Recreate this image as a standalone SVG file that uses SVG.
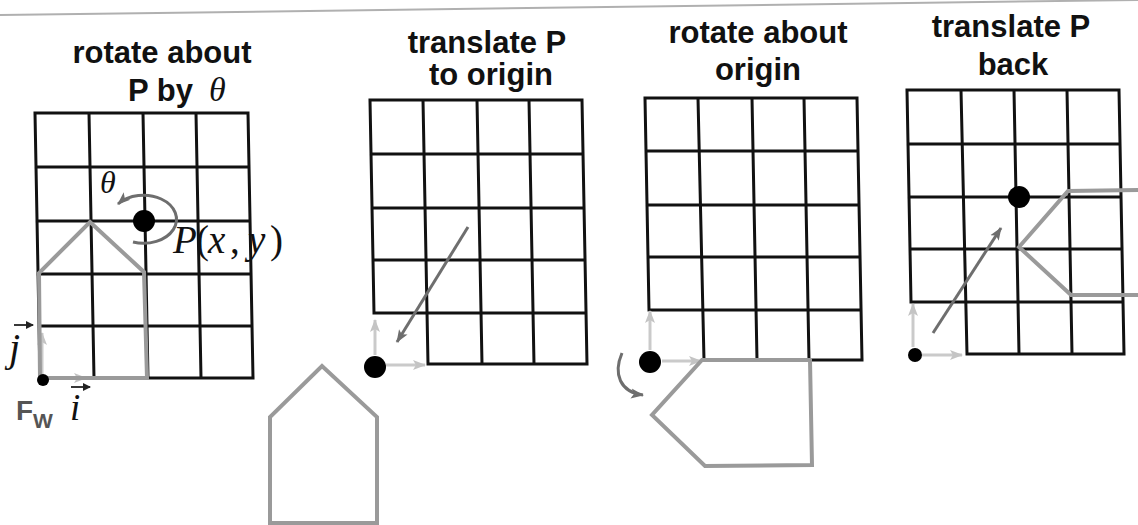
<svg xmlns="http://www.w3.org/2000/svg" width="1138" height="525" viewBox="0 0 1138 525">
<style>
.title{font-family:"Liberation Sans",Arial,sans-serif;font-weight:bold;font-size:31px;fill:#111;text-anchor:middle}
.math{font-family:"Liberation Serif","Times New Roman",serif;font-style:italic;fill:#111}
.up{font-style:normal}
.grid{fill:none;stroke:#111;stroke-width:3;stroke-linecap:square}
.house{fill:none;stroke:#9a9a9a;stroke-width:4;stroke-linejoin:miter}
.axis{fill:none;stroke:#cacaca;stroke-width:3}
.dark{fill:none;stroke:#6e6e6e;stroke-width:3}
.vec{fill:none;stroke:#222;stroke-width:1.8}
.dot{fill:#000}
</style>
<defs>
<marker id="ahDark" markerUnits="userSpaceOnUse" markerWidth="16" markerHeight="12" refX="12" refY="6" orient="auto"><path d="M0,1 L13,6 L0,11 L3,6 z" fill="#6e6e6e"/></marker>
<marker id="ahLight" markerUnits="userSpaceOnUse" markerWidth="16" markerHeight="12" refX="12" refY="6" orient="auto"><path d="M0,1 L13,6 L0,11 L3,6 z" fill="#c4c4c4"/></marker>
<marker id="ahVec" markerUnits="userSpaceOnUse" markerWidth="9" markerHeight="8" refX="7" refY="4" orient="auto"><path d="M0,0 L8,4 L0,8 z" fill="#222"/></marker>
</defs>
<rect width="1138" height="525" fill="#fff"/>
<line x1="0" y1="15" x2="1138" y2="0" stroke="#b0b0b0" stroke-width="2"/>

<g id="panel1">
<text class="title" x="162" y="63">rotate about</text>
<text class="title" x="128" y="101" style="text-anchor:start">P by</text>
<text class="math" x="209" y="101" font-size="34">θ</text>
<path class="grid" d="M35 113 L40 378 M89 113 L94 378 M143 113 L148 378 M196 113 L201 378 M248 113 L253 378 M35 113 H248 M36 167 H249 M37 221 H250 M38 274 H251 M39 326 H252 M40 378 H253"/>
<line class="axis" x1="42" y1="376" x2="42" y2="333" marker-end="url(#ahLight)"/>
<line class="axis" x1="46" y1="378" x2="86" y2="378" marker-end="url(#ahLight)"/>
<path class="house" d="M40 378 L39 273 L90 222 L144 272 L147 378 Z"/>
<circle class="dot" cx="43" cy="380" r="6"/>
<circle class="dot" cx="144" cy="221" r="11"/>
<text class="math" x="100" y="193" font-size="32">θ</text>
<text class="math" font-size="39" y="253"><tspan x="173">P</tspan><tspan class="up" x="196">(</tspan><tspan x="208">x</tspan><tspan class="up" x="230">,</tspan><tspan x="248">y</tspan><tspan class="up" x="270">)</tspan></text>
<text class="math" x="9" y="361" font-size="40">j</text>
<line class="vec" x1="14" y1="325" x2="33" y2="325" marker-end="url(#ahVec)"/>
<text class="math" x="70" y="420" font-size="37">i</text>
<line class="vec" x1="71" y1="387" x2="90" y2="387" marker-end="url(#ahVec)"/>
<text x="16" y="420" font-family="Liberation Sans,Arial,sans-serif" font-weight="bold" font-size="28" fill="#555">F</text>
<text x="33" y="428" font-family="Liberation Sans,Arial,sans-serif" font-weight="bold" font-size="21" fill="#555">W</text>
</g>

<g id="panel2">
<text class="title" x="487" y="53">translate P</text>
<text class="title" x="491" y="85">to origin</text>
<path class="grid" d="M370 100 L374 313 M423 100 L428 364 M477 100 L482 364 M529 100 L534 364 M582 100 L587 364 M370 100 H582 M371 154 H583 M372 208 H584 M373 260 H585 M374 313 H586 M428 364 H587"/>
<line class="axis" x1="375" y1="355" x2="375" y2="320" marker-end="url(#ahLight)"/>
<line class="axis" x1="386" y1="365" x2="425" y2="365" marker-end="url(#ahLight)"/>
<circle class="dot" cx="375" cy="367" r="11"/>
<path class="house" d="M270 523 L270 417 L322 366 L377 417 L377 523 Z"/>
</g>

<g id="panel3">
<text class="title" x="758" y="43">rotate about</text>
<text class="title" x="758" y="80">origin</text>
<path class="grid" d="M645 98 L649 310 M698 98 L704 360 M752 98 L757 360 M804 98 L809 360 M857 98 L862 360 M645 98 H857 M646 151 H858 M647 205 H859 M648 257 H860 M649 310 H861 M704 360 H862"/>
<line class="axis" x1="650" y1="350" x2="650" y2="311" marker-end="url(#ahLight)"/>
<line class="axis" x1="662" y1="361" x2="701" y2="361" marker-end="url(#ahLight)"/>
<circle class="dot" cx="650" cy="362" r="11"/>
<path class="house" d="M702 360 L810 360 L812 465 L705 466 L652 415 Z"/>
</g>

<g id="panel4">
<text class="title" x="1011" y="37">translate P</text>
<text class="title" x="1013" y="75">back</text>
<path class="grid" d="M907 90 L911 302 M961 90 L967 354 M1014 90 L1019 354 M1067 90 L1072 354 M1119 90 L1124 354 M907 90 H1119 M908 144 H1120 M909 197 H1121 M910 249 H1122 M911 302 H1123 M967 354 H1124"/>
<line class="axis" x1="913" y1="347" x2="913" y2="304" marker-end="url(#ahLight)"/>
<line class="axis" x1="922" y1="355" x2="962" y2="355" marker-end="url(#ahLight)"/>
<circle class="dot" cx="915" cy="355" r="7"/>
<circle class="dot" cx="1019" cy="197" r="11"/>
<path class="house" d="M1140 190 L1068 191 L1019 247 L1071 295 L1140 295"/>
</g>

<g id="connectors">
<path class="dark" stroke="#8a8a8a" d="M133 242 A33 24 0 1 0 118 204" marker-end="url(#ahDark)"/>
<line class="dark" x1="468" y1="227" x2="397" y2="342" marker-end="url(#ahDark)"/>
<path class="dark" d="M622 353 C613 374 620 392 643 395" marker-end="url(#ahDark)"/>
<line class="dark" x1="933" y1="333" x2="1001" y2="228" marker-end="url(#ahDark)"/>
</g>
</svg>
